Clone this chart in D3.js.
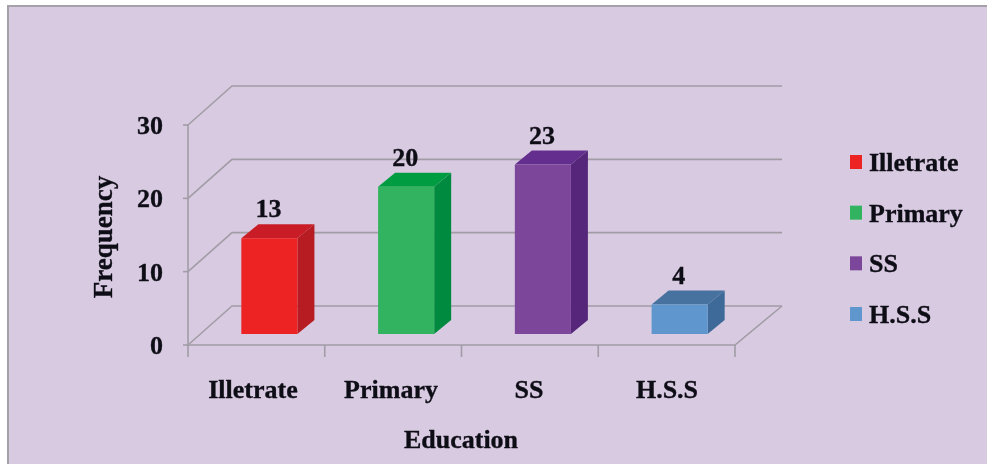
<!DOCTYPE html>
<html>
<head>
<meta charset="utf-8">
<script src="https://cdn.jsdelivr.net/npm/d3@7"></script>
<style>
html, body { margin: 0; padding: 0; background: #fff; }
svg { display: block; }
text { font-family: "Liberation Serif", serif; font-weight: bold; fill: #100e18; stroke: #100e18; stroke-width: 0.35; font-size: 26px; }
</style>
</head>
<body>
<svg id="chart" width="987" height="464"></svg>
<script>
var categories = ["Illetrate", "Primary", "SS", "H.S.S"];
var values = [13, 20, 23, 4];
var yTicks = [0, 10, 20, 30];
var faceColors = ["#ed2024", "#31b35f", "#7c479b", "#5f96cd"];
var topColors = ["#c91f25", "#049c43", "#642d8d", "#47729f"];
var sideColors = ["#b71c21", "#058a3f", "#55287a", "#3e6a98"];

var gridColor = "#a19ca6";
var svg = d3.select("#chart");

// slight blur, the reference is a soft scan
svg.append("defs").append("filter").attr("id", "soft")
    .append("feGaussianBlur").attr("stdDeviation", 0.5);

var root = svg.append("g").attr("filter", "url(#soft)");

// panel
root.append("rect")
    .attr("x", 8).attr("y", 6)
    .attr("width", 990).attr("height", 470)
    .attr("fill", "#d8cbe1")
    .attr("stroke", "#a5a1a8")
    .attr("stroke-width", 2);

// floor/wall scales
var xAxisScale = d3.scaleBand().domain(categories).range([188, 735]);
var yScale = d3.scaleLinear().domain([0, 30]).range([345, 125]);
var wallX = 44, wallY = 39;

// bars stand in the middle of the floor
var xBar = d3.scaleBand().domain(categories).range([201, 748]).paddingInner(0.59).paddingOuter(0.295);
var yBar = d3.scaleLinear().domain([0, 30]).range([334, 113]);
var depthX = 17, depthY = 14;

// category labels sit a little off the tick centres
var xLabel = d3.scalePoint().domain(categories).range([253, 667]);

// gridlines, running up the side wall and along the back
var grid = root.append("g").attr("fill", "none").attr("stroke", gridColor).attr("stroke-width", 1.6);
yTicks.forEach(function(t) {
    var y = yScale(t);
    grid.append("path").attr("d", d3.line()([
        [188, y], [188 + wallX, y - wallY], [782, y - wallY]
    ]));
    grid.append("line")
        .attr("x1", 183).attr("x2", 188)
        .attr("y1", y).attr("y2", y);
});

// axes
grid.append("line").attr("x1", 188).attr("x2", 188).attr("y1", yScale(30)).attr("y2", yScale(0));
grid.append("path").attr("d", d3.line()([
    [188, yScale(0)], [735, yScale(0)], [735 + wallX + 3, yScale(0) - wallY]
]));
xAxisScale.domain().concat([null]).forEach(function(c) {
    var x = c === null ? 735 : xAxisScale(c);
    grid.append("line").attr("x1", x).attr("x2", x).attr("y1", 345).attr("y2", 357);
});

// y tick labels
root.selectAll("text.ytick")
    .data(yTicks)
    .enter()
    .append("text")
    .attr("class", "ytick")
    .attr("x", 163)
    .attr("y", function(d) { return yScale(d) + 9; })
    .attr("text-anchor", "end")
    .text(function(d) { return d; });

// bars
var bars = root.selectAll("g.bar")
    .data(values)
    .enter()
    .append("g")
    .attr("class", "bar");

bars.append("path")
    .attr("fill", function(d, i) { return sideColors[i]; })
    .attr("d", function(d, i) {
        var x1 = xBar(categories[i]) + xBar.bandwidth();
        return d3.line()([
            [x1, yBar(d)], [x1 + depthX, yBar(d) - depthY],
            [x1 + depthX, yBar(0) - depthY], [x1, yBar(0)]
        ]);
    });

bars.append("path")
    .attr("fill", function(d, i) { return topColors[i]; })
    .attr("d", function(d, i) {
        var x0 = xBar(categories[i]), x1 = x0 + xBar.bandwidth();
        return d3.line()([
            [x0, yBar(d)], [x0 + depthX, yBar(d) - depthY],
            [x1 + depthX, yBar(d) - depthY], [x1, yBar(d)]
        ]);
    });

bars.append("rect")
    .attr("fill", function(d, i) { return faceColors[i]; })
    .attr("x", function(d, i) { return xBar(categories[i]); })
    .attr("y", function(d) { return yBar(d); })
    .attr("width", xBar.bandwidth())
    .attr("height", function(d) { return yBar(0) - yBar(d); });

// value labels
bars.append("text")
    .attr("x", function(d, i) { return xBar(categories[i]) + xBar.bandwidth() / 2 - 1; })
    .attr("y", function(d) { return yBar(d) - depthY - 7; })
    .attr("text-anchor", "middle")
    .text(function(d) { return d; });

// category labels
root.selectAll("text.xtick")
    .data(categories)
    .enter()
    .append("text")
    .attr("class", "xtick")
    .attr("x", function(d) { return xLabel(d); })
    .attr("y", 398)
    .attr("text-anchor", "middle")
    .text(function(d) { return d; });

// axis titles
root.append("text")
    .attr("x", 461).attr("y", 448)
    .attr("text-anchor", "middle")
    .text("Education");

root.append("text")
    .attr("transform", "translate(112,237) rotate(-90)")
    .attr("text-anchor", "middle")
    .style("font-size", "27px")
    .text("Frequency");

// legend
var yLegend = d3.scalePoint().domain(categories).range([162, 314]);
var legend = root.selectAll("g.legend")
    .data(categories)
    .enter()
    .append("g")
    .attr("class", "legend")
    .attr("transform", function(d) { return "translate(850," + yLegend(d) + ")"; });

legend.append("rect")
    .attr("x", 0).attr("y", -7)
    .attr("width", 12).attr("height", 14)
    .attr("fill", function(d, i) { return faceColors[i]; });

legend.append("text")
    .attr("x", 19).attr("y", 9)
    .text(function(d) { return d; });
</script>
</body>
</html>
